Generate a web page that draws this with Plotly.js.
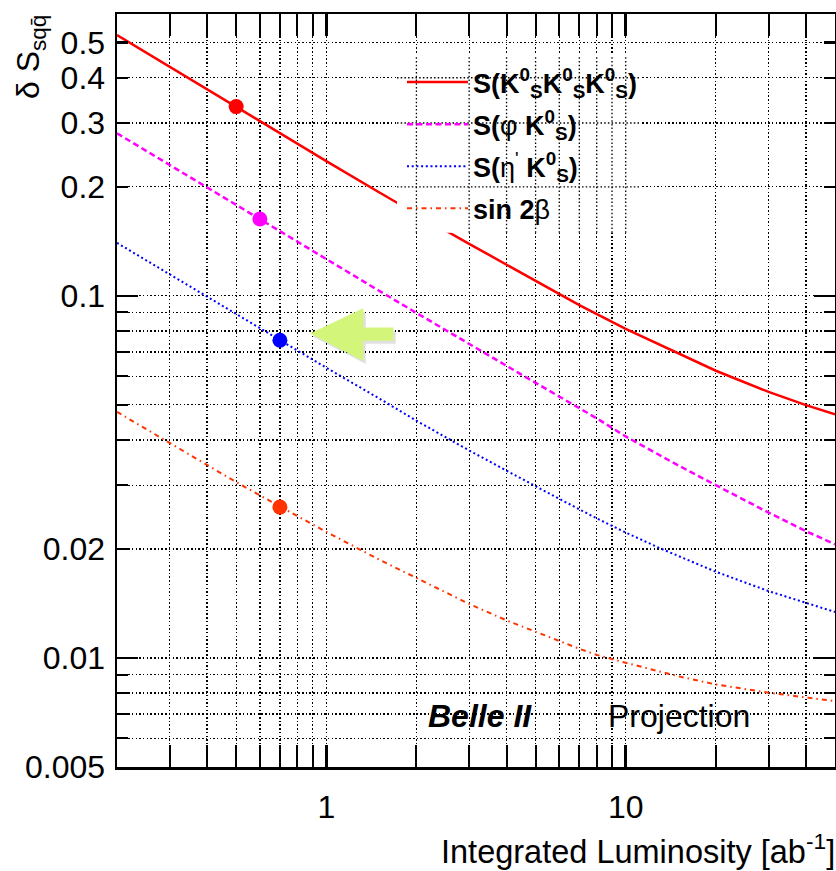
<!DOCTYPE html>
<html><head><meta charset="utf-8">
<script src="https://cdn.plot.ly/plotly-3.0.1.min.js"></script>
<style>html,body{margin:0;padding:0;background:#fff}</style>
</head><body><div id="chart" style="width:836px;height:871px"></div>
<script>
// ---- data ----
const lumiK3  = [0.2,0.3,0.5,0.7,1,1.5,2,3,4,5,7,10,15,20,30,40,50];
const sK3     = [0.525,0.4285,0.333,0.2815,0.2355,0.1932,0.1682,0.1392,0.1218,0.1098,0.0942,0.081,0.0693,0.0621,0.0543,0.0499,0.0471];
const lumiPhi = [0.2,0.3,0.4,0.6,1,1.5,2,3,4,5,6,7,8,10,15,20,30,40,50];
const sPhi    = [0.281,0.2295,0.1988,0.1625,0.1262,0.1033,0.0897,0.0735,0.064,0.0575,0.0527,0.0489,0.0459,0.0409,0.034,0.030,0.0252,0.0224,0.0206];
const lumiEta = [0.2,0.3,0.4,0.7,1,1.5,2,3,4,5,6,7,8,10,13,20,30,40,50];
const sEta    = [0.140,0.1145,0.0993,0.0754,0.0633,0.0521,0.0452,0.0374,0.033,0.0298,0.0275,0.0257,0.0243,0.0222,0.0201,0.0173,0.0153,0.0142,0.0134];
const lumiS2b = [0.2,0.3,0.5,0.7,1,1.5,2,3,4,5,6,7,8,10,15,20,30,40,50];
const sS2b    = [0.0478,0.0392,0.0306,0.0262,0.0223,0.0187,0.0166,0.0141,0.0127,0.0118,0.0111,0.0106,0.0102,0.0097,0.0089,0.00845,0.00802,0.00777,0.0076];
const pointLumi = [0.5,0.6,0.7,0.7];
const pointS    = [0.333,0.163,0.0754,0.0261];
const seriesNames = [
  '<b>S(K<sup>0</sup><sub>S</sub>K<sup>0</sup><sub>S</sub>K<sup>0</sup><sub>S</sub>)</b>',
  '<b>S(</b>φ<b> K<sup>0</sup><sub>S</sub>)</b>',
  "<b>S(</b>η<sup>'</sup><b> K<sup>0</sup><sub>S</sub>)</b>",
  '<b>sin 2</b>β'
];
const xMajorTicks = [1,10];
const xMajorLabels = ['1','10'];
const xMinorTicks = [0.3,0.4,0.5,0.6,0.7,0.8,0.9,2,3,4,5,6,7,8,9,20,30,40];
const yLabelTicks = [0.005,0.01,0.02,0.1,0.2,0.3,0.4,0.5];
const yLabelText  = ['0.005','0.01','0.02','0.1','0.2','0.3','0.4','0.5'];
const yMinorTicks = [0.006,0.007,0.008,0.009,0.03,0.04,0.05,0.06,0.07,0.08,0.09];
const yLongTicks  = [0.01,0.1];

// ---- styling ----
const FONT = 'Liberation Sans, Arial, Helvetica, sans-serif';
const colors = ['#ff0000','#ff00ff','#0000ff','#ff3300'];
const dashes = ['solid','6px,3.5px','2px,2.7px','5px,4px,1.5px,4px'];
const widths = [2.5,2.5,2,2];
const X0=0.2, X1=50, Y0=0.005, Y1=0.6;
const ML=117, MT=14, PW=718, PH=753;
const px = p => (p-ML)/PW;
const py = p => (MT+PH-p)/PH;
const GRIDDASH = '1.5px,2.2px';

const lumis = [lumiK3,lumiPhi,lumiEta,lumiS2b];
const vals  = [sK3,sPhi,sEta,sS2b];
const traces = [];
for (let i=0;i<4;i++){
  traces.push({x:lumis[i], y:vals[i], type:'scatter', mode:'lines', name:seriesNames[i], legendgroup:'g'+i,
    line:{color:colors[i], width:widths[i], dash:dashes[i], shape:'linear'},
    hoverinfo:'skip'});
}
for (let i=0;i<4;i++){
  traces.push({x:[pointLumi[i]], y:[pointS[i]], type:'scatter', mode:'markers', showlegend:false,
    marker:{color:colors[i], size:15, line:{width:0}}, hoverinfo:'skip'});
}
traces.push({x:[null], y:[null], yaxis:'y2', type:'scatter', mode:'markers', showlegend:false, hoverinfo:'skip'});

// legend region cover + grid redrawn over it
const coverX0 = px(397), coverX1 = px(640), coverY0 = py(232.7), coverY1 = py(55);
const shapes = [];
shapes.push({type:'rect', xref:'paper', yref:'paper', x0:coverX0, x1:coverX1, y0:coverY0, y1:coverY1,
  fillcolor:'#ffffff', line:{width:0}, layer:'above'});
const allX = xMajorTicks.concat(xMinorTicks);
const allY = yLabelTicks.concat(yMinorTicks);
const lx0 = Math.log10(X0), lx1 = Math.log10(X1), ly0 = Math.log10(Y0), ly1 = Math.log10(Y1);
allX.forEach(v=>{
  const f = (Math.log10(v)-lx0)/(lx1-lx0);
  if (f>coverX0 && f<coverX1) shapes.push({type:'line', xref:'x', yref:'paper', x0:v, x1:v,
    y0:coverY0, y1:coverY1, line:{color:'#000', width:1.3, dash:GRIDDASH}, layer:'above'});
});
allY.forEach(v=>{
  const f = (Math.log10(v)-ly0)/(ly1-ly0);
  if (f>coverY0 && f<coverY1) shapes.push({type:'line', xref:'paper', yref:'y', y0:v, y1:v,
    x0:coverX0, x1:coverX1, line:{color:'#000', width:1.3, dash:GRIDDASH}, layer:'above'});
});
// arrow
function arrowPath(dx,dy){
  const pts=[[310,333.5],[363.3,308.3],[363.3,327.5],[393.3,327.5],[393.3,340.8],[363.3,340.8],[363.3,361]];
  return 'M'+pts.map(p=>px(p[0]+dx)+','+py(p[1]+dy)).join(' L')+' Z';
}
shapes.push({type:'path', xref:'paper', yref:'paper', path:arrowPath(2.5,3), fillcolor:'rgba(0,0,0,0.12)', line:{width:0}, layer:'above'});
shapes.push({type:'path', xref:'paper', yref:'paper', path:arrowPath(0,0), fillcolor:'#d2f57a', line:{width:0}, layer:'above'});

const tickFont = {family:FONT, size:32, color:'#000'};
const layout = {
  width:836, height:871,
  margin:{l:ML, r:836-ML-PW, t:MT, b:871-MT-PH, pad:0},
  paper_bgcolor:'#fff', plot_bgcolor:'#fff',
  showlegend:true,
  legend:{x:px(402), y:py(58), xanchor:'left', yanchor:'top', bgcolor:'rgba(0,0,0,0)', borderwidth:0,
    font:{family:FONT, size:27, color:'#000'}, itemwidth:61, traceorder:'grouped', tracegroupgap:4},
  xaxis:{type:'log', range:[lx0,lx1], tickmode:'array', tickvals:xMajorTicks, ticktext:xMajorLabels,
    ticks:'inside', ticklen:22, tickwidth:2.5, tickcolor:'#000', mirror:'allticks',
    showline:true, linewidth:2.5, linecolor:'#000', showgrid:true, gridcolor:'#000', gridwidth:1.3, griddash:GRIDDASH,
    zeroline:false, tickfont:tickFont, ticklabelstandoff:10,
    minor:{tickmode:'array', tickvals:xMinorTicks, ticks:'inside', ticklen:11, tickwidth:2, tickcolor:'#000',
      showgrid:true, gridcolor:'#000', gridwidth:1.3, griddash:GRIDDASH}},
  yaxis:{type:'log', range:[ly0,ly1], tickmode:'array', tickvals:yLabelTicks, ticktext:yLabelText,
    ticks:'inside', ticklen:11, tickwidth:2.5, tickcolor:'#000', mirror:'allticks',
    showline:true, linewidth:2.5, linecolor:'#000', showgrid:true, gridcolor:'#000', gridwidth:1.3, griddash:GRIDDASH,
    zeroline:false, tickfont:tickFont, ticklabelstandoff:3,
    minor:{tickmode:'array', tickvals:yMinorTicks, ticks:'inside', ticklen:11, tickwidth:2, tickcolor:'#000',
      showgrid:true, gridcolor:'#000', gridwidth:1.3, griddash:GRIDDASH}},
  yaxis2:{type:'log', range:[ly0,ly1], overlaying:'y', anchor:'x', side:'left', tickmode:'array', tickvals:yLongTicks,
    ticks:'inside', ticklen:21, tickwidth:2.5, tickcolor:'#000', mirror:'ticks', showticklabels:false,
    showline:false, showgrid:false, zeroline:false},
  shapes:shapes,
  annotations:[
    {xref:'paper', yref:'paper', x:px(31), y:py(57), xanchor:'center', yanchor:'middle', textangle:-90, showarrow:false,
     text:'δ S<sub>sqq\u0304</sub>', font:{family:FONT, size:32, color:'#000'}},
    {xref:'paper', yref:'paper', x:px(837), y:py(849), xanchor:'right', yanchor:'middle', showarrow:false,
     text:'Integrated Luminosity [ab<sup>-1</sup>]', font:{family:FONT, size:32.5, color:'#000'}},
    {xref:'paper', yref:'paper', x:px(426), y:py(716), xanchor:'left', yanchor:'middle', showarrow:false,
     text:'<b><i>Belle II</i></b>', font:{family:FONT, size:32, color:'#000'}},
    {xref:'paper', yref:'paper', x:px(606), y:py(716), xanchor:'left', yanchor:'middle', showarrow:false,
     text:'Projection', font:{family:FONT, size:32, color:'#000'}}
  ]
};
Plotly.newPlot('chart', traces, layout, {staticPlot:true, displayModeBar:false});
</script></body></html>
